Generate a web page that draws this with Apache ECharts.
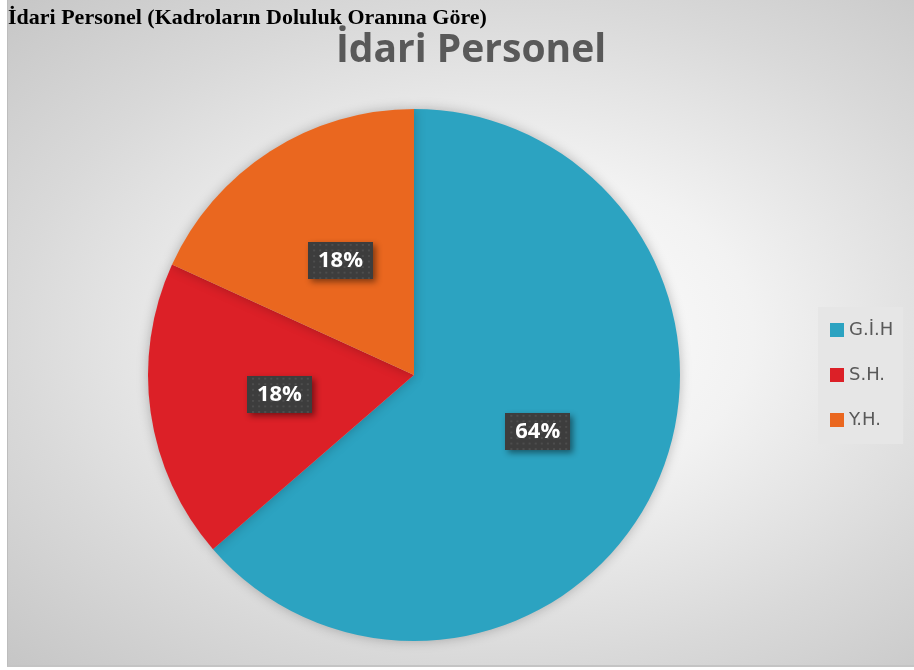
<!DOCTYPE html>
<html>
<head>
<meta charset="utf-8">
<script src="https://cdn.jsdelivr.net/npm/echarts@6/dist/echarts.min.js"></script>
<style>
  html, body { margin: 0; padding: 0; background: #fff; }
  #chart {
    position: absolute; left: 7px; top: 0; width: 907px; height: 667px;
    background: radial-gradient(ellipse at 55% 50%, #ffffff 0%, #f2f2f2 35%, #d9d9d9 70%, #c6c6c6 100%);
    border-left: 1px solid #bdbdbd; border-bottom: 2px solid #c4c4c4;
    box-sizing: border-box;
  }
</style>
</head>
<body>
<div id="chart"></div>
<script>
const categories = ['G.İ.H', 'S.H.', 'Y.H.']
const values = [7, 2, 2]
const colors = ['#2ca3c1', '#dc2027', '#ea671f']

// dotted dark texture for the data label boxes
function dotTexture(w, h) {
  const c = document.createElement('canvas')
  c.width = w; c.height = h
  const ctx = c.getContext('2d')
  ctx.fillStyle = '#3d3d3d'
  ctx.fillRect(0, 0, w, h)
  ctx.fillStyle = '#4d4d4d'
  for (let y = 2; y < h; y += 6) {
    for (let x = (y / 6) % 2 ? 5 : 2; x < w; x += 6) ctx.fillRect(x, y, 2, 2)
  }
  return c
}
const tex = dotTexture(64, 40)

const chart = echarts.init(document.getElementById('chart'))

chart.setOption({
  backgroundColor: 'transparent',
  title: [
    {
      text: 'İdari Personel (Kadroların Doluluk Oranına Göre)',
      left: -5, top: 2,
      textStyle: { fontFamily: 'Liberation Serif', fontWeight: 'bold', fontSize: 22, color: '#000' }
    },
    {
      text: 'İdari Personel',
      left: 458, top: 26, textAlign: 'center',
      textStyle: { fontFamily: 'Open Sans', fontWeight: 'bold', fontSize: 39, color: '#595959' }
    }
  ],
  legend: {
    orient: 'vertical',
    left: 810, top: 307,
    padding: [14, 10, 15, 12],
    backgroundColor: '#e6e6e6',
    itemGap: 27,
    itemWidth: 14, itemHeight: 14,
    icon: 'rect',
    textStyle: { fontFamily: 'DejaVu Sans', fontSize: 18, color: '#595959' },
    data: categories
  },
  series: [{
    type: 'pie',
    center: [406, 375],
    radius: 266,
    startAngle: 90,
    clockwise: true,
    avoidLabelOverlap: false,
    itemStyle: { shadowBlur: 12, shadowColor: 'rgba(0,0,0,0.25)' },
    label: {
      position: 'inside',
      formatter: p => Math.round(p.percent) + '%',
      fontFamily: 'Open Sans', fontWeight: 'bold', fontSize: 22, color: '#fff',
      backgroundColor: { image: tex },
      padding: [8, 10, 7, 10],
      shadowBlur: 6, shadowColor: 'rgba(0,0,0,0.45)', shadowOffsetX: 3, shadowOffsetY: 3
    },
    labelLine: { show: false },
    emphasis: { disabled: true },
    data: categories.map((c, i) => ({ name: c, value: values[i], itemStyle: { color: colors[i] } }))
  }]
})
</script>
</body>
</html>
